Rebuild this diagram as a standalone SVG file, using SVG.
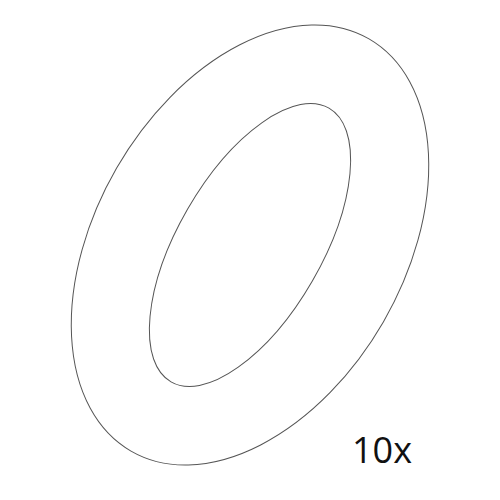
<svg xmlns="http://www.w3.org/2000/svg" width="500" height="500" viewBox="0 0 500 500">
  <style>
    .ring { fill: none; stroke: #555; stroke-width: 1; }
    .label { font-family: "Open Sans", "Noto Sans", "Liberation Sans", sans-serif; font-size: 36px; fill: #111; }
  </style>
  <rect width="500" height="500" fill="#fff"/>
  <g id="oring">
    <ellipse class="ring" cx="250" cy="245" rx="154" ry="238" transform="rotate(30 250 245)"/>
    <ellipse class="ring" cx="250" cy="245" rx="72" ry="158" transform="rotate(30 250 245)"/>
  </g>
  <g id="quantity">
    <text class="label" x="352" y="463">10x</text>
  </g>
</svg>
